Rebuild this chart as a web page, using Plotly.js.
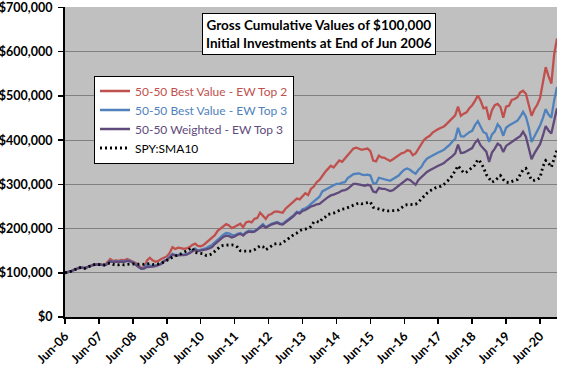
<!DOCTYPE html>
<html>
<head>
<meta charset="utf-8">
<script src="https://cdn.plot.ly/plotly-3.0.1.min.js"></script>
<style>
html,body{margin:0;padding:0;background:#fff;}
#chart{width:576px;height:365px;}
</style>
</head>
<body>
<div id="chart"></div>
<script>
// Monthly values ($ thousands), Jun-06 (index 0) through Dec-20 (index 174)
const tickLabels = ["Jun-06","Jun-07","Jun-08","Jun-09","Jun-10","Jun-11","Jun-12","Jun-13","Jun-14","Jun-15","Jun-16","Jun-17","Jun-18","Jun-19","Jun-20"];
const yTickVals = [0,100000,200000,300000,400000,500000,600000,700000];
const yTickText = ["$0","$100,000","$200,000","$300,000","$400,000","$500,000","$600,000","$700,000"];

const bestValueTop2 = [
100,101,103,106,109,111,112,110,113,116,118,119,
119,119,117,124,131,127,128,127,129,128,131,128,
125,122,116,111,112,128,134,128,125,127,131,135,
137,145,158,154,157,156,154,155,158,163,166,161,
160,163,168,174,180,185,195,200,206,210,207,201,
204,208,211,203,214,216,214,222,224,236,230,222,
231,233,238,239,237,236,245,251,255,262,268,266,
272,280,276,290,295,305,310,320,328,335,342,338,
346,354,351,358,365,372,381,383,380,378,380,381,
375,354,352,365,361,360,356,353,357,362,366,370,
372,377,376,366,370,380,392,401,406,410,417,422,
425,428,431,437,444,450,456,476,455,460,463,472,
479,489,501,489,472,474,446,468,479,482,475,451,
476,478,491,493,497,508,512,505,480,455,470,480,
495,530,565,545,528,594,630];

const bestValueTop3 = [
100,101,103,106,109,111,112,110,113,116,118,119,
119,118,117,121,127,125,126,126,127,126,128,127,
124,120,114,109,110,119,116,115,116,118,121,127,
130,136,143,140,141,141,141,142,145,150,155,150,
152,154,156,160,163,169,175,181,186,190,189,186,
185,188,190,186,192,195,194,194,199,204,210,203,
208,211,213,215,212,211,216,220,226,231,238,236,
244,246,250,256,262,267,272,284,288,291,296,298,
301,301,304,305,314,318,323,324,325,322,321,322,
320,303,302,315,313,312,310,308,312,316,320,327,
333,336,333,328,324,333,339,350,358,362,366,369,
372,375,378,384,389,397,403,428,409,408,414,418,
421,434,443,430,418,415,396,413,420,436,428,410,
428,433,437,440,444,453,464,453,430,396,408,418,
433,450,470,458,451,490,520];

const weightedTop3 = [
100,101,103,106,109,111,112,110,113,116,118,119,
119,118,117,120,126,124,125,125,126,125,127,126,
123,119,113,109,110,113,113,114,115,117,120,126,
129,134,141,139,140,140,140,141,144,148,152,149,
150,152,153,155,158,165,170,177,181,184,183,180,
182,186,188,184,190,193,192,193,198,202,207,202,
206,209,211,213,210,209,214,218,224,229,236,234,
240,242,246,250,252,255,256,262,266,271,275,277,
279,282,286,287,290,296,301,301,300,298,297,299,
297,284,282,292,290,290,288,285,287,292,297,304,
308,312,310,304,299,310,316,323,328,332,336,339,
342,345,348,354,358,364,370,390,371,372,375,379,
382,394,401,388,380,374,351,372,381,392,388,373,
387,392,395,401,405,409,419,408,385,357,370,380,
391,410,432,422,415,444,472];

const spySma10 = [
100,101,103,106,109,111,112,110,113,116,118,119,
119,119,118,121,122,119,118,118,119,118,119,120,
120,119,120,120,119,120,121,119,119,120,121,125,
127,131,135,138,140,143,146,150,153,157,146,145,
145,143,139,140,143,148,154,160,162,163,163,163,
162,158,150,149,149,149,149,152,157,161,159,152,
156,160,165,166,165,168,172,178,182,187,190,195,
198,199,201,205,215,216,214,222,226,232,233,235,
238,241,244,245,247,250,253,256,258,256,257,259,
260,248,246,244,243,241,240,240,241,241,242,247,
252,254,254,254,255,260,267,275,280,285,289,292,
294,296,300,305,312,320,332,342,334,326,328,332,
338,344,356,350,338,322,312,305,308,315,320,311,
305,304,307,309,311,322,333,336,324,310,309,311,
315,340,354,348,339,360,378];

const seriesNames = ["50-50 Best Value - EW Top 2","50-50 Best Value - EW Top 3","50-50 Weighted - EW Top 3","SPY:SMA10"];
const seriesColors = ["#C0504D","#4F81BD","#604A7B","#000000"];
const seriesData = [bestValueTop2, bestValueTop3, weightedTop3, spySma10];

const traces = seriesData.map((vals, i) => ({
  type: 'scatter',
  mode: 'lines',
  x: vals.map((v, k) => k),
  y: vals.map(v => v * 1000),
  name: '<span style="color:' + seriesColors[i] + '">' + seriesNames[i] + '</span>',
  line: i === 3
    ? {color: seriesColors[i], width: 2.8, dash: '2px,3px'}
    : {color: seriesColors[i], width: 2.3},
  hoverinfo: 'skip'
}));

const tickVals = tickLabels.map((t, i) => i * 12);

const layout = {
  width: 576, height: 365,
  margin: {l: 65, r: 19, t: 7, b: 48, pad: 0},
  paper_bgcolor: '#ffffff',
  plot_bgcolor: '#C0C0C0',
  font: {family: 'Lato, "Liberation Sans", sans-serif', size: 12, color: '#000'},
  showlegend: true,
  legend: {
    x: 0.059, y: 0.779, xanchor: 'left', yanchor: 'top',
    bgcolor: '#ffffff', bordercolor: '#000000', borderwidth: 1,
    font: {family: 'Lato, sans-serif', size: 12},
    tracegroupgap: 0, itemwidth: 30
  },
  xaxis: {
    range: [0, 174],
    tickmode: 'array', tickvals: tickVals, ticktext: tickLabels,
    tickangle: -45,
    ticks: 'outside', ticklen: 5, tickwidth: 1.5, tickcolor: '#000',
    showline: true, linecolor: '#000', linewidth: 2,
    showgrid: false, zeroline: false,
    ticklabeloverflow: 'allow',
    tickfont: {family: 'Lato, sans-serif', size: 12.5, weight: 700, color: '#000'}
  },
  yaxis: {
    range: [0, 701200],
    tickmode: 'array', tickvals: yTickVals, ticktext: yTickText,
    ticks: 'outside', ticklen: 5, tickwidth: 1.5, tickcolor: '#000',
    showline: true, linecolor: '#000', linewidth: 2,
    showgrid: true, gridcolor: '#808080', gridwidth: 1,
    zeroline: false,
    ticklabeloverflow: 'allow',
    tickfont: {family: 'Lato, sans-serif', size: 12.5, weight: 700, color: '#000'},
    ticklabelstandoff: 3
  },
  annotations: [{
    xref: 'paper', yref: 'paper', x: 0.516, y: 0.914,
    xanchor: 'center', yanchor: 'middle',
    text: '<b>Gross Cumulative Values of $100,000<br>Initial Investments at End of Jun 2006</b>',
    showarrow: false, align: 'center',
    font: {family: 'Lato, sans-serif', size: 13.5, color: '#000'},
    bgcolor: '#ffffff', bordercolor: '#000000', borderwidth: 1, borderpad: 3
  }]
};

Plotly.newPlot('chart', traces, layout, {staticPlot: true, displayModeBar: false});
</script>
</body>
</html>
